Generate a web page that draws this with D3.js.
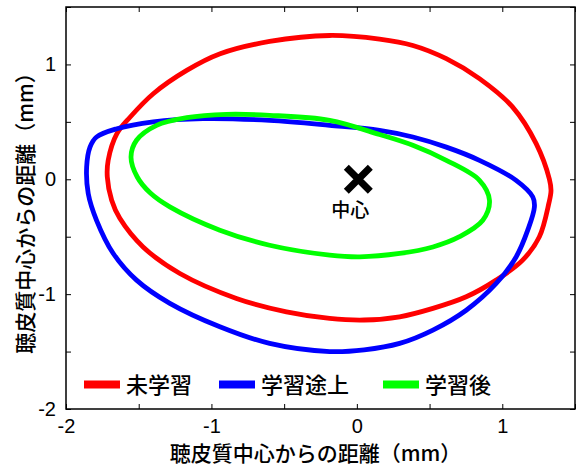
<!DOCTYPE html>
<html>
<head>
<meta charset="utf-8">
<script src="https://cdn.jsdelivr.net/npm/d3@7"></script>
<style>
  body { margin: 0; background: #fff; }
  svg { display: block; }
  text { font-family: "Liberation Sans", "Noto Sans CJK JP", sans-serif; fill: #000; }
</style>
</head>
<body>
<div id="chart"></div>
<script>
// contour points (mm), clockwise on screen
const untrained = [
  [-0.187, 1.252], [0.156, 1.22], [0.385, 1.165], [0.615, 1.05], [0.843, 0.876],
  [1.07, 0.63], [1.233, 0.31], [1.324, 0.0], [1.335, -0.1], [1.32, -0.21],
  [1.255, -0.50], [1.14, -0.704], [0.958, -0.878], [0.752, -1.023], [0.523, -1.124],
  [0.294, -1.197], [0.05, -1.225], [-0.187, -1.211], [-0.484, -1.154], [-0.828, -1.037],
  [-1.217, -0.82], [-1.47, -0.589], [-1.63, -0.34], [-1.686, -0.183], [-1.716, 0.02],
  [-1.71, 0.165], [-1.65, 0.397], [-1.56, 0.54], [-1.40, 0.745], [-1.17, 0.948],
  [-0.94, 1.093], [-0.6, 1.20]
];
const midTraining = [
  [-1.835, 0.28], [-1.79, 0.368], [-1.65, 0.44], [-1.40, 0.50], [-1.057, 0.528],
  [-0.60, 0.513], [-0.187, 0.47], [0.156, 0.426], [0.385, 0.368], [0.615, 0.28],
  [0.843, 0.165], [1.095, -0.009], [1.21, -0.154], [1.221, -0.24], [1.175, -0.443],
  [1.095, -0.676], [0.958, -0.907], [0.752, -1.14], [0.523, -1.313], [0.294, -1.429],
  [0.05, -1.485], [-0.187, -1.50], [-0.60, -1.429], [-0.942, -1.284], [-1.286, -1.08],
  [-1.515, -0.878], [-1.675, -0.646], [-1.79, -0.357], [-1.847, -0.125], [-1.858, 0.107]
];
const trained = [
  [-1.553, 0.194], [-1.515, 0.34], [-1.377, 0.47], [-1.17, 0.536], [-0.896, 0.565],
  [-0.60, 0.557], [-0.187, 0.513], [0.156, 0.39], [0.385, 0.296], [0.615, 0.165],
  [0.843, -0.009], [0.912, -0.183], [0.866, -0.357], [0.706, -0.50], [0.523, -0.589],
  [0.294, -0.646], [0.02, -0.675], [-0.187, -0.66], [-0.60, -0.574], [-0.942, -0.443],
  [-1.286, -0.24], [-1.42, -0.12], [-1.51, 0.02]
];
const seriesNames = ["未学習", "学習途上", "学習後"];
const seriesColors = ["#ff0000", "#0000ff", "#00ff00"];
const center = [0.01, 0];
const tickValues = [-2, -1.5, -1, -0.5, 0, 0.5, 1, 1.5];
const labelTicks = [-2, -1, 0, 1];
const axisTitle = "聴皮質中心からの距離（mm）";

const width = 581, height = 466;
const margin = { top: 7, right: 6, bottom: 57, left: 66 };

const svg = d3.select("#chart").append("svg")
  .attr("width", width)
  .attr("height", height);

const x = d3.scaleLinear().domain([-2, 1.5]).range([margin.left, width - margin.right]);
const y = d3.scaleLinear().domain([-2, 1.5]).range([height - margin.bottom, margin.top]);

const fmt = (d) => (labelTicks.includes(d) ? String(d) : "");

// axes with inward ticks on all four sides
const axisStyle = (g) => {
  g.select(".domain").remove();
  g.selectAll("line").attr("stroke", "#000").attr("stroke-width", 1);
  g.selectAll("text").style("font-size", "20px");
};
svg.append("g")
  .attr("transform", `translate(0,${y(-2)})`)
  .call(d3.axisBottom(x).tickValues(tickValues).tickSizeInner(-5).tickSizeOuter(0).tickPadding(10).tickFormat(fmt))
  .call(axisStyle);
svg.append("g")
  .attr("transform", `translate(0,${y(1.5)})`)
  .call(d3.axisTop(x).tickValues(tickValues).tickSizeInner(-5).tickSizeOuter(0).tickFormat(""))
  .call(axisStyle);
svg.append("g")
  .attr("transform", `translate(${x(-2)},0)`)
  .call(d3.axisLeft(y).tickValues(tickValues).tickSizeInner(-5).tickSizeOuter(0).tickPadding(10).tickFormat(fmt))
  .call(axisStyle);
svg.append("g")
  .attr("transform", `translate(${x(1.5)},0)`)
  .call(d3.axisRight(y).tickValues(tickValues).tickSizeInner(-5).tickSizeOuter(0).tickFormat(""))
  .call(axisStyle);

svg.selectAll(".tick text").attr("fill", "#000").style("font-family", "'Liberation Sans', Arial, sans-serif");

// contours
const line = d3.line()
  .x((d) => x(d[0]))
  .y((d) => y(d[1]))
  .curve(d3.curveCatmullRomClosed.alpha(0.5));

const curves = [untrained, midTraining, trained];
svg.append("g").selectAll("path")
  .data(curves)
  .join("path")
  .attr("d", line)
  .attr("fill", "none")
  .attr("stroke", (d, i) => seriesColors[i])
  .attr("stroke-width", 4.8);

// center marker
const cx = x(center[0]), cy = y(center[1]), arm = 12;
svg.append("path")
  .attr("d", `M${cx - arm},${cy - arm}L${cx + arm},${cy + arm}M${cx - arm},${cy + arm}L${cx + arm},${cy - arm}`)
  .attr("stroke", "#000")
  .attr("stroke-width", 7);
svg.append("text")
  .attr("x", cx - 8)
  .attr("y", cy + 38)
  .attr("text-anchor", "middle")
  .style("font-family", "'Noto Sans CJK JP', sans-serif")
  .style("font-size", "19px")
  .style("font-weight", 500)
  .text("中心");

// legend
const legendX = [84, 219, 383];
const legendY = 384.5;
const legend = svg.append("g");
seriesNames.forEach((name, i) => {
  legend.append("line")
    .attr("x1", legendX[i]).attr("x2", legendX[i] + 36)
    .attr("y1", legendY).attr("y2", legendY)
    .attr("stroke", seriesColors[i])
    .attr("stroke-width", 8);
  legend.append("text")
    .attr("x", legendX[i] + 42)
    .attr("y", legendY + 8)
    .style("font-family", "'Noto Sans CJK JP', sans-serif")
    .style("font-size", "22px")
    .style("font-weight", 500)
    .text(name);
});

// frame
svg.append("rect")
  .attr("x", x(-2)).attr("y", y(1.5))
  .attr("width", x(1.5) - x(-2)).attr("height", y(-2) - y(1.5))
  .attr("fill", "none")
  .attr("stroke", "#000")
  .attr("stroke-width", 1.5);

// axis titles
svg.append("text")
  .attr("x", (x(-2) + x(1.5)) / 2 - 5)
  .attr("y", 461)
  .attr("text-anchor", "middle")
  .style("font-family", "'Noto Sans CJK JP', sans-serif")
  .style("font-size", "21px")
  .style("font-weight", 500)
  .text(axisTitle);
svg.append("text")
  .attr("transform", `translate(33,${(y(-2) + y(1.5)) / 2}) rotate(-90)`)
  .attr("text-anchor", "middle")
  .style("font-family", "'Noto Sans CJK JP', sans-serif")
  .style("font-size", "21px")
  .style("font-weight", 500)
  .text(axisTitle);
</script>
</body>
</html>
